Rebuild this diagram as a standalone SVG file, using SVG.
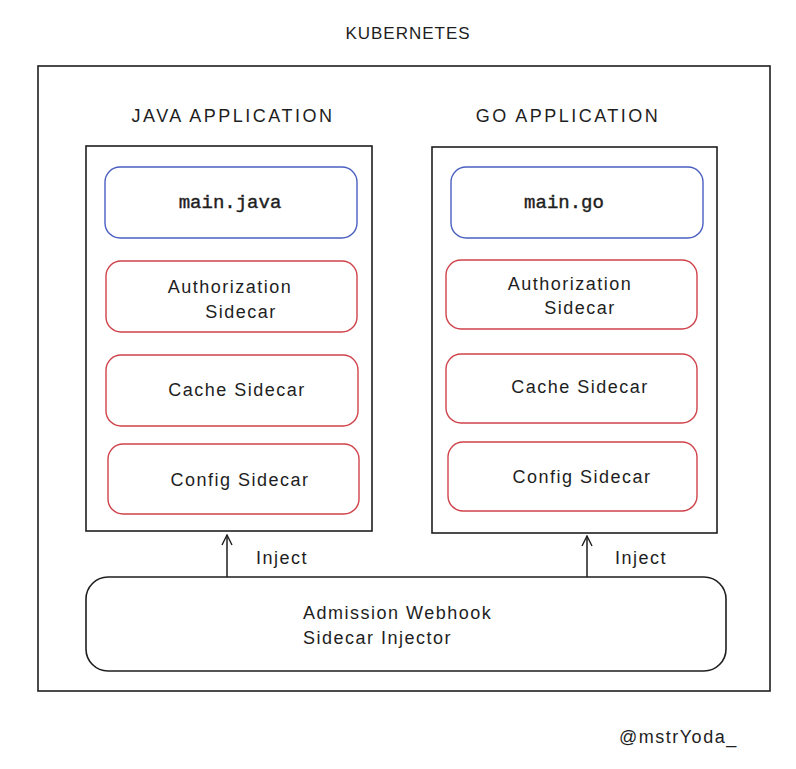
<svg xmlns="http://www.w3.org/2000/svg" width="796" height="769" viewBox="0 0 796 769">
<style>
.hand{font-family:"Liberation Sans","DejaVu Sans",sans-serif;fill:#1e1e1e;letter-spacing:1.5px}
.lbl{font-size:18px;text-anchor:middle}
.hdr{font-size:18px;text-anchor:middle;letter-spacing:2.5px}
.mono{font-family:"Liberation Mono","DejaVu Sans Mono",monospace;font-size:19px;fill:#1e1e1e;text-anchor:middle;stroke:#1e1e1e;stroke-width:0.4}
.box{fill:none;stroke:#1e1e1e;stroke-width:1.6}
.blue{fill:none;stroke:#4a5fc1;stroke-width:1.4}
.red{fill:none;stroke:#d0424a;stroke-width:1.4}
.conn{stroke:#1e1e1e;stroke-width:1.5;fill:none}
</style>
<defs>
<marker id="arr" viewBox="0 0 12 12" refX="11" refY="6" markerWidth="12" markerHeight="12" markerUnits="userSpaceOnUse" orient="auto">
<path d="M1,1 L11,6 L1,11" fill="none" stroke="#1e1e1e" stroke-width="1.4"/>
</marker>
</defs>
<rect width="796" height="769" fill="#ffffff"/>
<g id="kubernetes">
<text class="hand hdr" x="408" y="39" style="letter-spacing:1px;font-size:17px">KUBERNETES</text>
<rect class="box" x="38" y="66" width="732" height="625"/>
</g>
<g id="java-app">
<text class="hand hdr" x="233" y="122">JAVA APPLICATION</text>
<rect class="box" x="86" y="146" width="286" height="385"/>
</g>
<g id="go-app">
<text class="hand hdr" x="568" y="122">GO APPLICATION</text>
<rect class="box" x="432" y="147" width="285" height="386"/>
</g>
<g id="main-java">
<rect class="blue" x="105" y="167" width="252" height="71" rx="15"/>
<text class="mono" x="230" y="208">main.java</text>
</g>
<g id="auth-java">
<rect class="red" x="106" y="261" width="251" height="71" rx="15"/>
<text class="hand lbl" x="230" y="293">Authorization</text>
<text class="hand lbl" x="241" y="318">Sidecar</text>
</g>
<g id="cache-java">
<rect class="red" x="106" y="355" width="252" height="71" rx="15"/>
<text class="hand lbl" x="237" y="396">Cache Sidecar</text>
</g>
<g id="config-java">
<rect class="red" x="108" y="444" width="251" height="70" rx="15"/>
<text class="hand lbl" x="240" y="486">Config Sidecar</text>
</g>
<g id="main-go">
<rect class="blue" x="451" y="167" width="252" height="71" rx="15"/>
<text class="mono" x="564" y="208">main.go</text>
</g>
<g id="auth-go">
<rect class="red" x="446" y="260" width="251" height="69" rx="15"/>
<text class="hand lbl" x="570" y="290">Authorization</text>
<text class="hand lbl" x="580" y="314">Sidecar</text>
</g>
<g id="cache-go">
<rect class="red" x="446" y="354" width="251" height="69" rx="15"/>
<text class="hand lbl" x="580" y="393">Cache Sidecar</text>
</g>
<g id="config-go">
<rect class="red" x="448" y="442" width="249" height="69" rx="15"/>
<text class="hand lbl" x="582" y="483">Config Sidecar</text>
</g>
<g id="injector">
<rect class="box" x="86" y="577" width="640" height="94" rx="22"/>
<text class="hand" font-size="18" x="303" y="619">Admission Webhook</text>
<text class="hand" font-size="18" x="303" y="644">Sidecar Injector</text>
</g>
<g id="connectors">
<line class="conn" x1="227" y1="577" x2="227" y2="535" marker-end="url(#arr)"/>
<line class="conn" x1="587" y1="577" x2="587" y2="536" marker-end="url(#arr)"/>
<text class="hand" font-size="18" x="256" y="564">Inject</text>
<text class="hand" font-size="18" x="615" y="564">Inject</text>
</g>
<text class="hand" font-size="18" x="619" y="743">@mstrYoda_</text>
</svg>
